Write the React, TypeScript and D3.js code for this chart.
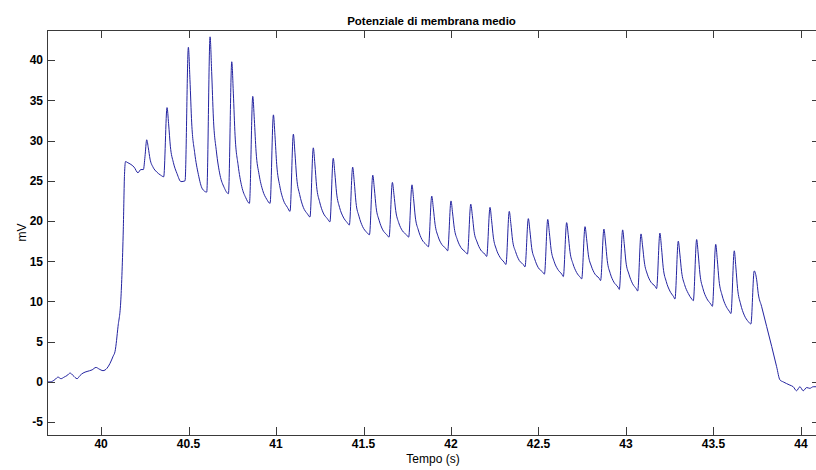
import React from "react";
import * as d3 from "d3";

const chartTitle = "Potenziale di membrana medio";
const xLabel = "Tempo (s)";
const yLabel = "mV";
const xDomain: [number, number] = [39.691, 44.109];
const yDomain: [number, number] = [-6.6, 43.75];
const xTicks = [40, 40.5, 41, 41.5, 42, 42.5, 43, 43.5, 44];
const yTicks = [-5, 0, 5, 10, 15, 20, 25, 30, 35, 40];

// [time (s), membrane potential (mV)]
const trace: [number, number][] = [
  [39.691, 0.0], [39.709, 0.0], [39.737, 0.3], [39.754, 0.6], [39.771, 0.4], [39.789, 0.6],
  [39.806, 0.8], [39.823, 1.1], [39.84, 0.8], [39.863, 0.4], [39.88, 0.8], [39.897, 1.1],
  [39.92, 1.3], [39.949, 1.5], [39.971, 1.8], [39.989, 1.6], [40.011, 1.4], [40.034, 1.7],
  [40.051, 2.3], [40.069, 3.2], [40.08, 3.8], [40.097, 6.9], [40.113, 10.2], [40.127, 18.9],
  [40.134, 25.8], [40.14, 27.4], [40.149, 27.3], [40.166, 27.1], [40.189, 26.7], [40.211, 26.0],
  [40.227, 26.4], [40.242, 26.4], [40.251, 28.0],
  [40.261, 30.1], [40.27, 29.1], [40.28, 27.7], [40.297, 26.7], [40.318, 26.1], [40.341, 25.7], [40.358, 25.5],
  [40.377, 34.1], [40.386, 32.1], [40.396, 29.3], [40.413, 27.3], [40.434, 25.9], [40.457, 24.9], [40.48, 25.0],
  [40.499, 41.6], [40.508, 37.6], [40.518, 32.2], [40.535, 28.5], [40.556, 25.8], [40.579, 24.0], [40.604, 23.6],
  [40.623, 42.9], [40.632, 38.6], [40.642, 32.8], [40.659, 28.7], [40.68, 25.7], [40.703, 24.2], [40.728, 23.4],
  [40.747, 39.8], [40.756, 35.9], [40.766, 30.6], [40.783, 27.0], [40.804, 24.3], [40.827, 22.9], [40.848, 22.2],
  [40.867, 35.5], [40.876, 32.6], [40.886, 28.6], [40.903, 25.8], [40.924, 23.8], [40.947, 22.7], [40.966, 22.2],
  [40.985, 33.2], [40.994, 30.6], [41.004, 27.0], [41.021, 24.4], [41.042, 22.6], [41.065, 21.7], [41.08, 21.2],
  [41.099, 30.8], [41.108, 28.5], [41.118, 25.4], [41.135, 23.3], [41.156, 21.7], [41.179, 20.9], [41.194, 20.5],
  [41.213, 29.1], [41.222, 27.1], [41.232, 24.3], [41.249, 22.4], [41.27, 21.0], [41.293, 20.3], [41.308, 19.9],
  [41.327, 27.8], [41.336, 26.0], [41.346, 23.5], [41.363, 21.7], [41.384, 20.5], [41.407, 19.8], [41.419, 19.5],
  [41.438, 26.7], [41.447, 24.9], [41.457, 22.3], [41.474, 20.6], [41.495, 19.3], [41.518, 18.6], [41.534, 18.3],
  [41.553, 25.7], [41.562, 24.0], [41.572, 21.7], [41.589, 20.1], [41.61, 18.9], [41.633, 18.3], [41.646, 18.0],
  [41.665, 24.8], [41.674, 23.3], [41.684, 21.3], [41.701, 19.8], [41.722, 18.8], [41.745, 18.3], [41.758, 18.0],
  [41.777, 24.5], [41.786, 22.8], [41.796, 20.5], [41.813, 18.9], [41.834, 17.7], [41.857, 17.1], [41.871, 16.8],
  [41.89, 23.1], [41.899, 21.6], [41.909, 19.6], [41.926, 18.1], [41.947, 17.1], [41.97, 16.6], [41.981, 16.3],
  [42.0, 22.5], [42.009, 21.0], [42.019, 19.1], [42.036, 17.7], [42.057, 16.7], [42.08, 16.2], [42.094, 15.9],
  [42.113, 22.1], [42.122, 20.7], [42.132, 18.7], [42.149, 17.4], [42.17, 16.4], [42.193, 15.9], [42.204, 15.6],
  [42.223, 21.7], [42.232, 20.1], [42.242, 18.0], [42.259, 16.5], [42.28, 15.5], [42.303, 14.9], [42.314, 14.6],
  [42.333, 21.2], [42.342, 19.7], [42.352, 17.6], [42.369, 16.2], [42.39, 15.1], [42.413, 14.6], [42.423, 14.3],
  [42.442, 20.3], [42.451, 18.8], [42.461, 16.7], [42.478, 15.3], [42.499, 14.2], [42.522, 13.7], [42.534, 13.4],
  [42.553, 20.2], [42.562, 18.6], [42.572, 16.5], [42.589, 15.0], [42.61, 14.0], [42.633, 13.4], [42.642, 13.1],
  [42.661, 19.8], [42.67, 18.3], [42.68, 16.2], [42.697, 14.7], [42.718, 13.6], [42.739, 13.0], [42.747, 12.8],
  [42.766, 19.3], [42.775, 17.8], [42.785, 15.8], [42.802, 14.4], [42.823, 13.4], [42.846, 12.9], [42.855, 12.6],
  [42.874, 19.0], [42.883, 17.4], [42.893, 15.1], [42.91, 13.5], [42.931, 12.4], [42.954, 11.8], [42.962, 11.5],
  [42.981, 18.9], [42.99, 17.2], [43.0, 14.9], [43.017, 13.4], [43.038, 12.2], [43.058, 11.6], [43.067, 11.3],
  [43.086, 18.4], [43.095, 16.9], [43.105, 14.9], [43.122, 13.4], [43.143, 12.4], [43.166, 11.9], [43.175, 11.6],
  [43.194, 18.5], [43.203, 16.7], [43.213, 14.2], [43.23, 12.5], [43.251, 11.3], [43.272, 10.6], [43.28, 10.3],
  [43.299, 17.5], [43.308, 15.9], [43.318, 13.7], [43.335, 12.1], [43.356, 11.0], [43.376, 10.3], [43.385, 10.1],
  [43.404, 17.7], [43.413, 15.9], [43.423, 13.4], [43.44, 11.6], [43.461, 10.4], [43.484, 9.7], [43.494, 9.4],
  [43.513, 17.1], [43.522, 15.2], [43.532, 12.6], [43.549, 10.8], [43.57, 9.5], [43.59, 8.8], [43.6, 8.5],
  [43.619, 16.3], [43.628, 14.3], [43.638, 11.6], [43.655, 9.7], [43.676, 8.3], [43.699, 7.5], [43.714, 7.2],
  [43.733, 13.8], [43.747, 12.7], [43.756, 11.0], [43.775, 9.4], [43.804, 6.9], [43.833, 4.4], [43.861, 1.9],
  [43.88, 0.25], [43.899, 0.0], [43.937, -0.4], [43.956, -0.6], [43.975, -1.1], [43.994, -0.6], [44.013, -1.1],
  [44.033, -0.7], [44.051, -0.8], [44.07, -0.6], [44.109, -0.6],
];

const W = 816;
const H = 470;
const left = 47;
const right = 820;
const top = 30;
const bottom = 435;
const tickLen = 8;
const axisColor = "#3a3a3a";
const font = "'Liberation Sans', Arial, Helvetica, sans-serif";

export default function App() {
  const x = d3.scaleLinear().domain(xDomain).range([left, right]);
  const y = d3.scaleLinear().domain(yDomain).range([bottom, top]);
  const line = d3
    .line<[number, number]>()
    .x((d) => x(d[0]))
    .y((d) => y(d[1]))
    .curve(d3.curveMonotoneX);

  return (
    <svg
      width={W}
      height={H}
      style={{ position: "absolute", left: 0, top: 0, background: "#fff" }}
      xmlns="http://www.w3.org/2000/svg"
    >
      <rect x={0} y={0} width={W} height={H} fill="#fff" />
      <defs>
        <clipPath id="plotClip">
          <rect x={left} y={top} width={right - left} height={bottom - top} />
        </clipPath>
      </defs>
      <path
        d={line(trace) || ""}
        fill="none"
        stroke="#2323a0"
        strokeWidth={1}
        strokeLinejoin="round"
        clipPath="url(#plotClip)"
      />
      <g shapeRendering="crispEdges" stroke={axisColor} strokeWidth={1}>
        <rect x={left + 0.5} y={top + 0.5} width={right - left} height={bottom - top} fill="none" />
        {xTicks.map((t) => (
          <g key={"xt" + t}>
            <line x1={Math.round(x(t)) + 0.5} x2={Math.round(x(t)) + 0.5} y1={bottom} y2={bottom - tickLen} />
            <line x1={Math.round(x(t)) + 0.5} x2={Math.round(x(t)) + 0.5} y1={top} y2={top + tickLen} />
          </g>
        ))}
        {yTicks.map((t) => (
          <g key={"yt" + t}>
            <line x1={left} x2={left + tickLen} y1={Math.round(y(t)) + 0.5} y2={Math.round(y(t)) + 0.5} />
            <line x1={right} x2={right - tickLen} y1={Math.round(y(t)) + 0.5} y2={Math.round(y(t)) + 0.5} />
          </g>
        ))}
      </g>
      <g fontFamily={font} fontSize={12} fontWeight="bold" fill="#000">
        {xTicks.map((t) => (
          <text key={"xl" + t} x={x(t)} y={bottom + 13} textAnchor="middle">
            {String(t)}
          </text>
        ))}
        {yTicks.map((t) => (
          <text key={"yl" + t} x={left - 4} y={y(t) + 4.3} textAnchor="end">
            {String(t)}
          </text>
        ))}
      </g>
      <text
        x={431.5}
        y={25}
        textAnchor="middle"
        fontFamily={font}
        fontSize={11.5}
        fontWeight="bold"
        fill="#000"
      >
        {chartTitle}
      </text>
      <text
        x={433}
        y={462.5}
        textAnchor="middle"
        fontFamily={font}
        fontSize={12}
        fill="#000"
      >
        {xLabel}
      </text>
      <text
        transform={`translate(25.5, ${(top + bottom) / 2}) rotate(-90)`}
        textAnchor="middle"
        fontFamily={font}
        fontSize={12}
        fill="#000"
      >
        {yLabel}
      </text>
    </svg>
  );
}
